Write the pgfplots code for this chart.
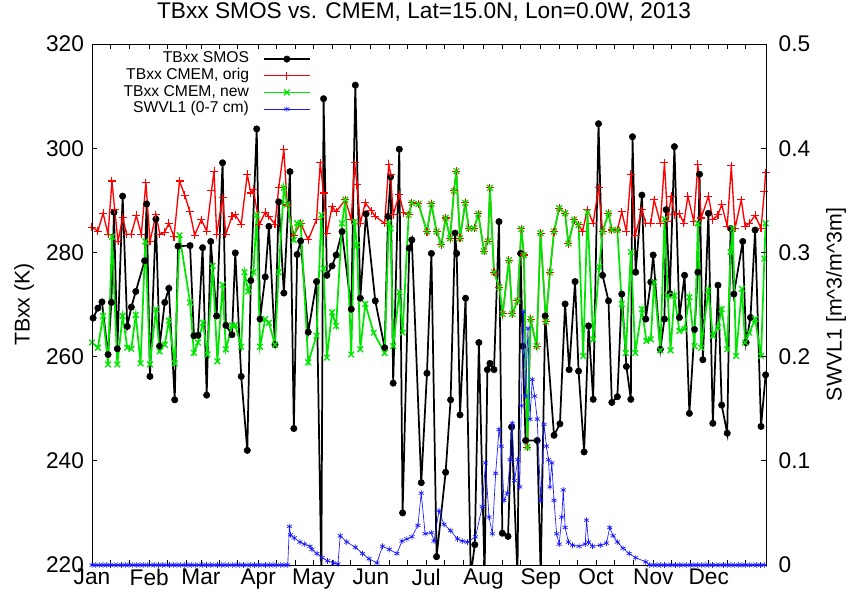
\documentclass[border=0pt]{standalone}
\usepackage{fontspec}
\setmainfont{Liberation Sans}
\usepackage{pgfplots}
\pgfplotsset{compat=1.18}
\definecolor{cmemred}{RGB}{255,0,0}
\definecolor{cmemgreen}{RGB}{0,230,0}
\definecolor{swblue}{RGB}{25,25,255}
\pgfplotsset{
  common/.style={
    scale only axis, width=505.5pt, height=390.75pt,
    xmin=1, xmax=366,
    tick align=inside,
    major tick length=3.8pt, minor tick length=3.8pt,
    tick style={line width=0.6pt, black},
    axis line style={line width=0.6pt},
    ticklabel style={font=\fontsize{17}{19}\selectfont},
    /pgf/number format/assume math mode=true,
  }
}
\begin{document}
\begin{tikzpicture}
\path[use as bounding box] (-69pt,-24pt) rectangle (567pt,423.75pt);
\begin{axis}[common,
  ymin=220, ymax=320,
  xtick={1,32,60,91,121,152,182,213,244,274,305,335},
  xticklabels={Jan,Feb,Mar,Apr,May,Jun,Jul,Aug,Sep,Oct,Nov,Dec},
  minor xtick={11,21,42,52,70,80,101,111,131,141,162,172,192,202,223,233,254,264,284,294,315,325,345,355},
  xticklabel style={inner sep=1pt, yshift=-1.5pt},
  yticklabel style={xshift=-2.5pt},
  ytick={220,240,260,280,300,320},
  ytick pos=left,
  ylabel={TBxx (K)},
  ylabel style={font=\fontsize{16}{18}\selectfont, at={(rel axis cs:-0.1009,0.5)}, anchor=center},
  title={TBxx SMOS vs. CMEM, Lat=15.0N, Lon=0.0W, 2013},
  title style={font=\fontsize{17}{19}\selectfont, at={(0.4926,1)}, anchor=base, yshift=13pt},
  legend style={at={(0.3254,0.9875)}, anchor=north east, draw=none, fill=none,
    inner xsep=0pt, inner ysep=0pt,
    font=\fontsize{11.75}{12.5}\selectfont, row sep=0pt, column sep=9.25pt,
    nodes={inner xsep=1pt, inner ysep=0.5pt, text height=8.6pt, text depth=2.9pt}},
  legend cell align=right,
  legend plot pos=right,
  legend image code/.code={\draw[mark repeat=2,mark phase=2,#1] plot coordinates {(0pt,0pt) (17.5pt,0pt) (35pt,0pt)};},
]
\addplot[black, line width=1.3pt, mark=*, mark size=2.4pt, mark options={solid, fill=black, line width=0.4pt}] table {
1.6 267.4
4.2 269.3
6.4 270.5
9.7 260.4
11.5 270.4
12.9 287.7
14.7 261.5
17.6 290.8
20.1 265.8
22.3 269.5
24.7 272.5
29.5 278.4
30.6 289.3
32.4 256.2
35.6 286.4
37.6 262.0
40.4 270.4
42.6 273.1
45.8 251.7
47.6 281.2
54.1 281.3
56.2 264.0
58.4 264.1
60.9 280.9
63.1 252.6
65.3 282.1
68.5 267.8
71.7 297.2
73.5 266.0
76.8 264.2
78.6 279.9
81.8 256.2
85.1 242.0
87.0 274.6
90.2 303.7
92.0 267.2
94.8 275.3
96.8 285.0
100.1 262.3
102.1 289.7
104.9 272.2
108.2 295.5
110.3 246.2
112.1 279.6
114.0 282.2
118.1 264.7
122.6 274.4
125.2 218.0
126.4 309.5
128.2 275.6
131.0 277.4
133.2 279.5
136.4 284.0
141.4 269.1
143.6 312.1
146.3 271.2
149.4 287.4
154.4 270.7
159.5 261.7
161.3 286.9
162.7 294.5
164.1 254.9
167.4 299.8
169.2 230.0
172.8 280.8
174.2 282.4
179.3 235.8
182.4 256.8
184.8 279.8
187.6 221.6
192.5 237.8
195.2 251.7
197.6 283.7
198.5 279.8
200.3 248.8
203.3 271.2
206.1 218.0
208.3 223.9
210.5 262.7
213.6 218.0
215.1 257.5
216.5 258.7
218.7 257.5
221.4 285.9
223.2 226.1
226.3 225.5
228.2 246.5
231.4 218.0
233.1 279.8
234.2 262.0
235.8 243.9
242.1 243.9
244.0 218.0
246.4 267.8
251.2 244.9
254.4 247.1
257.2 270.1
259.4 257.5
262.6 274.4
264.5 257.2
267.5 241.7
269.9 265.9
272.4 251.8
275.3 304.7
277.5 275.6
280.7 270.7
282.5 251.2
285.5 252.3
287.9 272.0
290.4 258.1
292.8 251.8
293.7 302.2
295.4 276.2
298.8 291.0
300.9 267.2
303.6 274.3
304.9 279.5
308.8 261.4
311.0 267.2
311.9 288.2
313.9 272.1
316.4 300.3
319.1 267.5
321.9 275.6
324.5 249.1
327.3 265.2
329.1 276.2
330.0 295.0
331.8 259.4
334.8 287.5
337.2 247.2
340.0 273.7
342.0 250.7
345.0 245.3
346.8 284.6
348.6 272.0
353.4 282.1
355.2 262.7
357.6 267.5
360.1 284.3
363.3 246.6
365.8 256.5
};
\addlegendentry{TBxx SMOS}
\addplot[cmemred, line width=1pt, mark=+, mark size=3pt, mark options={solid, line width=0.8pt}] table {
1.0 284.8
4.2 284.1
7.0 287.5
9.7 283.5
11.8 293.7
13.3 288.2
15.1 282.1
17.6 286.7
19.7 283.5
22.3 283.5
25.0 287.1
27.7 283.5
30.2 293.4
32.4 282.1
35.6 287.2
37.8 283.5
40.4 283.9
42.6 285.6
45.4 283.0
48.4 293.7
51.2 291.0
53.9 287.9
56.6 283.3
60.2 286.3
63.1 284.1
65.7 291.8
67.1 295.6
68.5 283.5
71.7 290.5
73.5 283.5
76.8 286.9
78.6 287.2
81.8 285.4
85.1 295.0
87.0 291.4
88.4 292.1
91.6 285.3
94.8 287.7
96.8 286.9
100.1 285.4
102.1 292.4
104.9 299.8
106.7 289.1
110.3 283.3
114.0 285.6
118.1 282.4
122.6 286.3
124.6 297.2
126.4 291.4
128.2 283.7
131.0 288.8
133.2 287.8
138.2 290.1
141.4 286.3
143.2 297.2
144.5 293.0
146.3 285.6
149.0 289.5
152.3 288.0
154.4 286.9
159.5 285.6
161.7 296.9
162.7 295.0
164.1 287.2
167.4 291.1
169.8 287.6
172.5 287.2
174.2 289.5
177.8 289.3
182.4 284.0
184.8 289.3
187.6 284.0
190.2 281.5
192.5 286.6
194.9 282.7
197.0 291.8
198.3 295.6
200.3 282.7
203.1 289.5
205.1 284.6
207.9 284.6
210.2 287.4
213.3 280.2
215.4 282.1
216.5 292.4
218.7 276.2
221.6 273.3
223.4 268.2
226.8 278.5
228.6 268.2
231.4 270.7
233.5 284.5
234.9 279.5
236.8 242.6
238.5 267.2
241.8 262.0
243.9 283.7
246.8 266.7
249.0 276.2
251.2 284.0
254.0 288.5
257.2 287.5
259.0 281.7
262.1 286.3
264.5 285.3
266.6 284.0
269.3 288.2
272.4 285.6
275.3 292.4
277.5 284.0
280.7 287.5
282.5 284.3
285.5 284.3
287.9 287.8
290.4 284.0
292.8 295.0
295.2 283.3
298.8 288.2
300.9 285.6
303.6 285.6
305.4 290.1
308.8 285.6
311.0 297.2
312.8 285.9
314.6 290.8
316.4 287.2
319.1 287.4
321.5 285.6
323.7 290.8
326.9 285.9
329.1 296.9
330.9 286.6
334.8 290.8
337.2 286.3
340.0 287.2
342.0 289.2
345.0 285.0
347.2 296.6
349.2 284.6
352.6 290.1
354.7 285.0
357.0 285.6
360.1 287.1
363.3 284.6
365.1 291.7
365.8 295.3
};
\addlegendentry{TBxx CMEM, orig}
\addplot[cmemgreen, line width=1.3pt, mark=x, mark size=3pt, mark options={solid, line width=1pt}] table {
1.0 262.7
4.2 261.7
7.0 267.8
9.7 258.5
11.8 283.0
14.7 258.5
17.6 267.8
20.1 261.7
22.3 261.5
24.7 268.0
27.3 258.7
29.9 282.1
32.4 258.5
35.6 269.1
37.6 261.0
40.4 262.3
42.6 266.9
45.8 258.7
48.4 283.3
54.1 270.4
56.2 260.7
58.4 262.7
61.1 266.5
63.5 260.4
66.3 277.4
68.9 259.1
71.7 273.8
73.5 261.4
76.8 266.0
78.6 266.0
81.8 261.9
83.6 276.2
85.6 272.5
88.4 276.2
90.2 287.2
92.0 261.9
94.8 267.2
96.8 266.5
100.1 262.3
102.1 276.2
104.9 292.4
106.7 289.2
110.3 282.4
112.1 285.6
114.0 285.6
118.1 258.9
122.6 264.0
125.2 287.2
126.4 276.9
128.2 259.8
131.0 268.5
133.2 265.9
136.4 285.6
138.2 290.1
141.4 260.4
143.2 285.9
144.5 281.4
146.3 261.4
149.0 270.1
153.5 264.6
159.5 260.7
161.7 285.6
162.7 284.6
164.1 262.0
167.4 272.4
169.2 264.6
172.5 287.2
174.2 289.5
177.8 289.3
182.4 284.0
184.8 289.3
187.6 284.0
190.2 281.5
192.5 286.6
194.9 282.7
197.0 291.8
198.3 295.6
200.3 282.7
203.1 289.5
205.1 284.6
207.9 284.6
210.2 287.4
213.3 280.2
215.4 282.1
216.5 292.4
218.7 276.2
221.6 273.3
223.4 268.2
226.8 278.5
228.6 268.2
231.4 270.7
233.5 284.5
234.9 279.5
236.8 242.6
238.5 267.2
241.8 262.0
243.9 283.7
246.8 266.7
249.0 276.2
251.2 284.0
254.0 288.5
257.2 287.5
259.0 281.7
262.1 286.3
264.5 285.3
267.0 260.1
269.3 287.7
272.4 263.3
275.7 277.2
277.5 284.0
280.7 287.5
282.5 284.3
285.5 284.3
287.9 270.1
290.1 260.7
292.8 280.1
295.2 260.7
298.8 269.1
301.2 263.0
303.6 263.3
305.4 274.3
308.8 261.2
311.0 286.4
312.8 271.7
314.3 261.2
316.4 271.7
319.1 264.9
321.9 265.3
324.5 271.4
327.3 262.0
329.1 285.6
330.9 261.7
334.8 272.7
337.2 264.0
340.0 265.6
342.0 269.1
345.0 261.4
346.8 280.1
348.0 284.6
349.8 260.1
352.9 273.0
354.7 262.7
357.0 264.6
360.1 267.2
363.3 260.1
365.1 278.8
365.8 285.6
};
\addlegendentry{TBxx CMEM, new}
\addlegendimage{swblue, line width=0.5pt, mark=asterisk, mark size=2.2pt, mark options={solid}}
\addlegendentry{SWVL1 (0-7 cm)}
\end{axis}
\begin{axis}[common,
  clip mode=individual,
  ymin=0, ymax=0.5,
  xtick=\empty,
  ytick={0,0.1,0.2,0.3,0.4,0.5},
  ytick pos=right,
  yticklabel pos=right,
  yticklabel style={/pgf/number format/fixed, /pgf/number format/precision=1, xshift=6pt},
  ylabel={SWVL1 [m\textasciicircum 3/m\textasciicircum 3m]},
  ylabel style={font=\fontsize{16}{18}\selectfont, at={(rel axis cs:1.1039,0.5)}, anchor=center},
]
\addplot[swblue, line width=0.5pt, mark=asterisk, mark size=2.2pt, mark options={solid, line width=0.5pt}] table {
1 0
3 0
5 0
7 0
9 0
11 0
13 0
15 0
17 0
19 0
21 0
23 0
25 0
27 0
29 0
31 0
33 0
35 0
37 0
39 0
41 0
43 0
45 0
47 0
49 0
51 0
53 0
55 0
57 0
59 0
61 0
63 0
65 0
67 0
69 0
71 0
73 0
75 0
77 0
79 0
81 0
83 0
85 0
87 0
89 0
91 0
93 0
95 0
97 0
99 0
101 0
103 0
105 0
107 0
107.9 0.037
108.5 0.029
110.5 0.026
113.6 0.022
116.0 0.020
119.0 0.018
120.1 0.015
122.8 0.011
125.6 0.007
128.5 0.004
131.8 0.002
134.2 0.001
135.4 0.028
139.0 0.022
143.6 0.017
147.5 0.011
151.0 0.006
155.3 0.002
158.3 0.018
162.0 0.015
166.1 0.011
168.9 0.023
171.5 0.025
174.2 0.027
177.5 0.038
179.3 0.069
181.4 0.030
184.8 0.031
186.2 0.023
188.9 0.052
191.6 0.039
195.2 0.033
198.9 0.025
201.5 0.023
204.3 0.022
208.7 0.027
212.3 0.056
214.1 0.098
216.0 0.046
217.8 0.030
219.6 0.088
221.4 0.130
222.6 0.114
224.1 0.062
225.9 0.069
227.4 0.101
228.6 0.136
229.8 0.081
231.6 0.101
232.6 0.075
233.5 0.153
234.6 0.243
235.8 0.162
237.1 0.227
238.2 0.140
239.4 0.178
240.7 0.162
242.1 0.140
244.0 0.062
245.8 0.135
247.1 0.114
248.2 0.101
249.0 0.075
250.0 0.098
251.2 0.062
252.6 0.030
254.0 0.020
255.4 0.046
256.2 0.072
257.2 0.036
259.0 0.022
261.2 0.019
264.8 0.018
268.1 0.020
268.8 0.043
269.9 0.022
272.0 0.018
276.5 0.019
279.6 0.021
281.4 0.036
283.2 0.028
285.5 0.022
288.6 0.016
291.9 0.011
295.4 0.007
300.9 0.003
303 0
305 0
307 0
309 0
311 0
313 0
315 0
317 0
319 0
321 0
323 0
325 0
327 0
329 0
331 0
333 0
335 0
337 0
339 0
341 0
343 0
345 0
347 0
349 0
351 0
353 0
355 0
357 0
359 0
361 0
363 0
365 0
};
\end{axis}
\end{tikzpicture}
\end{document}
